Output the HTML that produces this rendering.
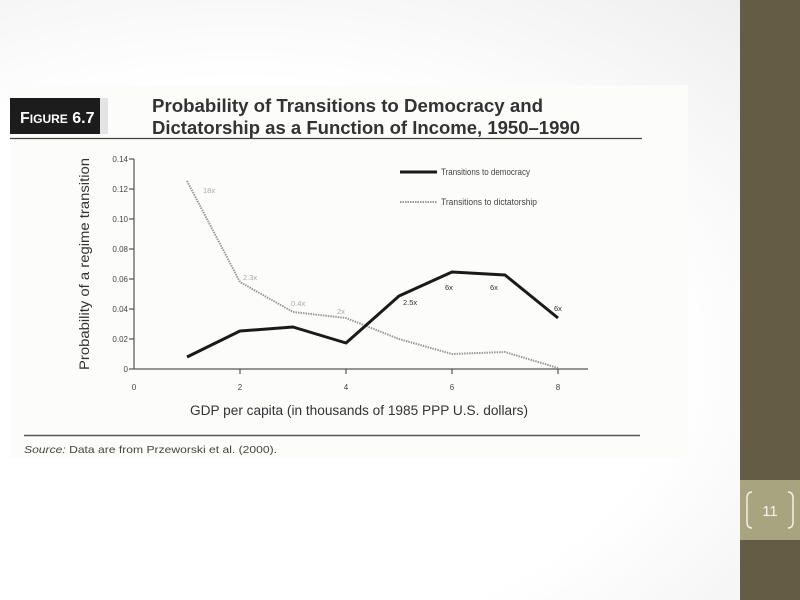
<!DOCTYPE html>
<html><head><meta charset="utf-8"><style>
html,body{margin:0;padding:0;}
body{width:800px;height:600px;position:relative;overflow:hidden;font-family:"Liberation Sans",sans-serif;
background:radial-gradient(ellipse at 30% 60%,#ffffff 0%,#ffffff 55%,#ececec 100%);}
#side{position:absolute;left:740px;top:0;width:60px;height:600px;background:#655c45;}
#band{position:absolute;left:740px;top:480px;width:60px;height:60px;background:#a8a47f;}
#img{position:absolute;left:10px;top:85px;width:678px;height:373px;background:#fcfcfb;}
</style></head><body>
<div id="side"></div><div id="band"></div>
<svg style="position:absolute;left:740px;top:480px" width="60" height="60">
<path d="M12 12 Q7 12 7 18 L7 42 Q7 48 12 48" fill="none" stroke="#f2f0e2" stroke-width="1.5"/>
<path d="M48 12 Q53 12 53 18 L53 42 Q53 48 48 48" fill="none" stroke="#f2f0e2" stroke-width="1.5"/>
<text x="30" y="36" text-anchor="middle" font-size="15" fill="#f6f4ea" font-family="Liberation Sans">11</text>
</svg>
<div id="img"></div>
<svg style="position:absolute;left:0;top:0" width="740" height="600" font-family="Liberation Sans, sans-serif">
<rect x="10" y="98" width="90" height="36" fill="#1c1c1c"/>
<text x="20" y="123" fill="#fff" font-size="16" font-weight="bold">F<tspan font-size="12">IGURE</tspan> 6.7</text>
<rect x="100" y="98" width="8" height="36" fill="#e4e4e4"/>
<text x="152" y="112" font-size="18" font-weight="bold" fill="#333" textLength="391" lengthAdjust="spacingAndGlyphs">Probability of Transitions to Democracy and</text>
<text x="152" y="134" font-size="18" font-weight="bold" fill="#333" textLength="428" lengthAdjust="spacingAndGlyphs">Dictatorship as a Function of Income, 1950–1990</text>
<line x1="10" y1="138.5" x2="642" y2="138.5" stroke="#444" stroke-width="1.2"/>
<g stroke="#555" stroke-width="1.2" fill="none">
<line x1="134" y1="159" x2="134" y2="369"/>
<line x1="134" y1="369" x2="588" y2="369"/>
<line x1="129" y1="159" x2="134" y2="159"/><line x1="129" y1="189" x2="134" y2="189"/>
<line x1="129" y1="219" x2="134" y2="219"/><line x1="129" y1="249" x2="134" y2="249"/>
<line x1="129" y1="279" x2="134" y2="279"/><line x1="129" y1="309" x2="134" y2="309"/>
<line x1="129" y1="339" x2="134" y2="339"/><line x1="129" y1="369" x2="134" y2="369"/>
<line x1="240" y1="369" x2="240" y2="374"/><line x1="346" y1="369" x2="346" y2="374"/>
<line x1="452" y1="369" x2="452" y2="374"/><line x1="558" y1="369" x2="558" y2="374"/>
</g>
<g font-size="8" fill="#444" text-anchor="end">
<text x="128" y="162">0.14</text><text x="128" y="192">0.12</text><text x="128" y="222">0.10</text>
<text x="128" y="252">0.08</text><text x="128" y="282">0.06</text><text x="128" y="312">0.04</text>
<text x="128" y="342">0.02</text><text x="128" y="372">0</text>
</g>
<g font-size="8" fill="#444" text-anchor="middle">
<text x="134" y="390">0</text><text x="240" y="390">2</text><text x="346" y="390">4</text><text x="452" y="390">6</text><text x="558" y="390">8</text>
</g>
<text x="190" y="415" font-size="13.5" fill="#333" textLength="338" lengthAdjust="spacingAndGlyphs">GDP per capita (in thousands of 1985 PPP U.S. dollars)</text>
<text transform="translate(89,370) rotate(-90)" font-size="13.5" fill="#333" textLength="212" lengthAdjust="spacingAndGlyphs">Probability of a regime transition</text>
<polyline points="187,181 240,282 293,312 346,318 399,339 452,354 505,352 558,368" fill="none" stroke="#999" stroke-width="2" stroke-dasharray="1.5,1"/>
<polyline points="187,357 240,331 293,327 346,343 399,296 452,272 505,275 558,318" fill="none" stroke="#1a1a1a" stroke-width="3" stroke-linejoin="round"/>
<g font-size="7.5" fill="#aaa">
<text x="203" y="193">18x</text><text x="243" y="280">2.3x</text><text x="291" y="306">0.4x</text><text x="337" y="314">2x</text>
</g>
<g font-size="7.5" fill="#333">
<text x="403" y="305">2.5x</text><text x="445" y="290">6x</text><text x="490" y="290">6x</text><text x="554" y="311">6x</text>
</g>
<line x1="400" y1="172" x2="437" y2="172" stroke="#1a1a1a" stroke-width="3"/>
<text x="441" y="175" font-size="9" fill="#444" textLength="89" lengthAdjust="spacingAndGlyphs">Transitions to democracy</text>
<line x1="400" y1="202" x2="437" y2="202" stroke="#999" stroke-width="2" stroke-dasharray="1.5,1"/>
<text x="441" y="205" font-size="9" fill="#444" textLength="96" lengthAdjust="spacingAndGlyphs">Transitions to dictatorship</text>
<line x1="24" y1="435.5" x2="640" y2="435.5" stroke="#555" stroke-width="1.5"/>
<text x="24" y="453" font-size="10.5" fill="#444" textLength="253" lengthAdjust="spacingAndGlyphs"><tspan font-style="italic">Source:</tspan> Data are from Przeworski et al. (2000).</text>
</svg>
</body></html>
